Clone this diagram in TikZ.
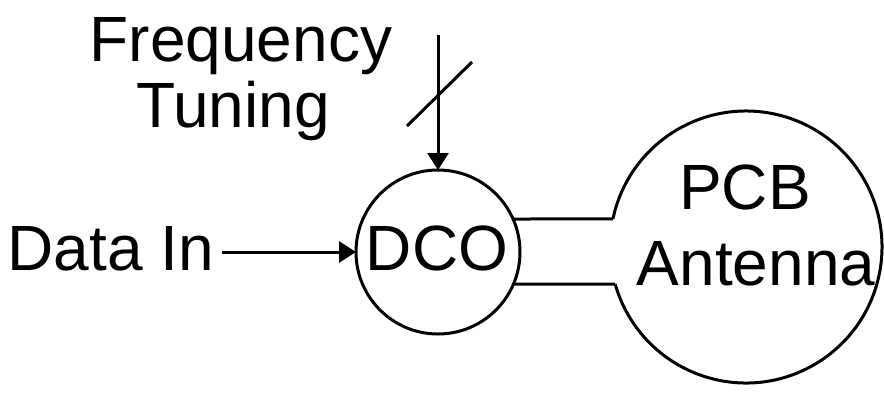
\documentclass[tikz,border=0pt]{standalone}
\usepackage{fontspec}
\setmainfont{Liberation Sans}
\usetikzlibrary{arrows.meta,calc}
\begin{document}
\begin{tikzpicture}[x=1pt,y=-1pt,
  wire/.style={line width=3pt,black},
  sig/.style={wire,-{Triangle[length=17pt,width=21pt]}},
  lbl/.style={font=\fontsize{64}{70}\selectfont,inner sep=0pt}]
  \useasboundingbox (0,0) rectangle (884,392);

  % DCO block
  \node[circle,draw,line width=3pt,minimum size=164pt,inner sep=0pt,outer sep=0pt] (dco) at (438,252) {};
  \node[lbl,anchor=base] (dcotxt) at (437,270) {DCO};

  % PCB antenna: circle left open where the feed lines join
  \coordinate (ant) at (746,247);
  \coordinate (feedT) at ($(ant)+(191.9:136)$);
  \coordinate (feedB) at ($(ant)+(164.2:136)$);
  \draw[wire] (feedT) arc[start angle=191.9,end angle=524.2,radius=136];
  \node[lbl,anchor=base] (pcb) at (745,209) {PCB};
  \node[lbl,anchor=base] (antenna) at (756,285) {Antenna};

  % feed lines between DCO and antenna
  \coordinate (dcoT) at ($(dco.center)+(75,-33)$);
  \coordinate (dcoB) at ($(dco.center)+(75.5,32)$);
  \draw[wire] (dcoT) -- (feedT);
  \draw[wire] (dcoB) -- (feedB);

  % data input
  \node[lbl,anchor=base east] (data) at (214,270) {Data In};
  \draw[sig] (data.east |- dco.west) ++(8,0) -- (dco.west);

  % frequency tuning bus
  \node[lbl,anchor=base] (freq) at (241,61) {Frequency};
  \node[lbl,anchor=base] (tune) at (233,127) {Tuning};
  \coordinate (busTop) at (438,35);
  \draw[sig] (busTop) -- (dco.north);
  \coordinate (slashA) at (407,126);
  \coordinate (slashB) at (472,62);
  \draw[wire] (slashA) -- (slashB);
\end{tikzpicture}
\end{document}
